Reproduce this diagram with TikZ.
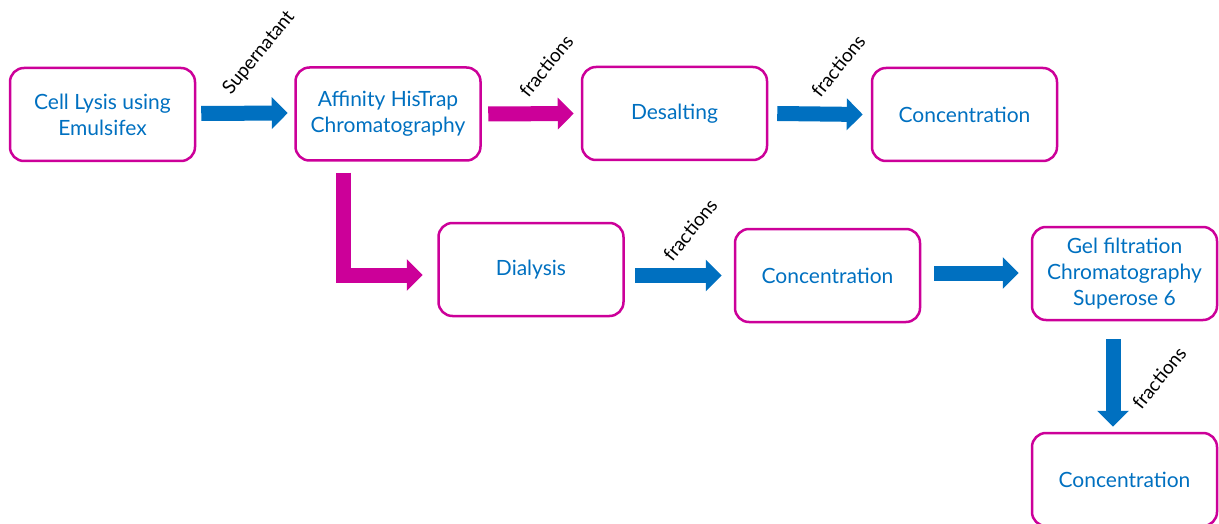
\documentclass[tikz,border=0pt]{standalone}
\usepackage{fontspec}
\setmainfont{Lato}
\usetikzlibrary{arrows.meta,calc}
\definecolor{mag}{HTML}{CC0099}
\definecolor{blu}{HTML}{0070C0}
\begin{document}
\begin{tikzpicture}[x=1pt,y=-1pt,
  box/.style={draw=mag, line width=2.5pt, rounded corners=14pt, minimum width=185pt, minimum height=93pt, align=center, text=blu, font=\fontsize{21}{26}\selectfont, inner sep=0pt},
  fat/.style={line width=15pt, line join=miter, -{Triangle[length=16pt,width=31pt]}},
  lab/.style={font=\fontsize{19}{22}\selectfont, rotate=51, inner sep=0pt}]
\useasboundingbox (0,0) rectangle (1219,524);
\node[box] (c1) at (102.5,114.5) {Cell Lysis using\\Emulsifex};
\node[box] (aff) at (388,114) {Affinity HisTrap\\Chromatography};
\node[box] (des) at (674.5,113.5) {Desalting};
\node[box] (con1) at (964.5,114.5) {Concentration};
\node[box] (dia) at (531,269.5) {Dialysis};
\node[box] (con2) at (827.5,275.5) {Concentration};
\node[box] (gel) at (1124.5,273.5) {Gel filtration\\Chromatography\\Superose 6};
\node[box] (con3) at (1124.5,479.5) {Concentration};
% arrows
\draw[fat, blu] ($(c1.east)+(5,-1)$) -- ($(aff.west)+(-6.5,-1)$);
\draw[fat, mag] ($(aff.east)+(6.5,0)$) -- ($(des.west)+(-7,0)$);
\draw[fat, blu] ($(des.east)+(9,0)$) -- ($(con1.west)+(-8,0)$);
\draw[fat, mag] ($(aff.south)+(-45,11)$) |- ($(dia.west)+(-14.5,5.5)$);
\draw[fat, blu] ($(dia.east |- con2)+(10.5,0)$) -- ($(con2.west)+(-12,0)$);
\draw[fat, blu] ($(con2.east)+(13,-2.5)$) -- ($(gel.west)+(-12,-0.5)$);
\draw[fat, blu] ($(gel.south)+(-11.5,18)$) -- ($(con3.north)+(-11.5,-5)$);
% labels
\node[lab] (l1) at (259,53) {Supernatant};
\node[lab] (l2) at (546,66) {fractions};
\node[lab] (l3) at (838,66) {fractions};
\node[lab] (l4) at (690,230) {fractions};
\node[lab] (l5) at (1159,378) {fractions};
\end{tikzpicture}
\end{document}
